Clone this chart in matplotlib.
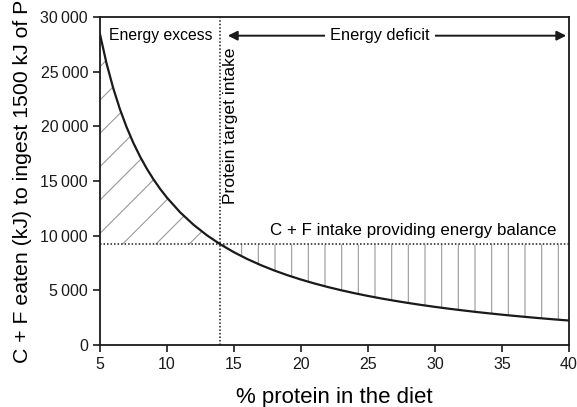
import numpy as np
import matplotlib.pyplot as plt
from matplotlib.ticker import FuncFormatter

plt.rcParams['font.family'] = ['Liberation Sans', 'DejaVu Sans']
plt.rcParams['hatch.linewidth'] = 0.8

# % protein in the diet and C + F needed to reach the 1500 kJ protein target
protein_pct = [5, 5.5, 6, 6.5, 7, 7.5, 8, 8.5, 9, 9.5, 10, 11, 12, 13, 14,
               15, 16, 17, 18, 19, 20, 21, 22, 23, 24, 25, 26, 27, 28, 29,
               30, 31, 32, 33, 34, 35, 36, 37, 38, 39, 40]
cf_eaten = [28500, 25773, 23500, 21577, 19929, 18500, 17250, 16147, 15167,
            14289, 13500, 12136, 11000, 10038, 9214, 8500, 7875, 7324, 6833,
            6395, 6000, 5643, 5318, 5022, 4750, 4500, 4269, 4056, 3857, 3672,
            3500, 3339, 3188, 3045, 2912, 2786, 2667, 2554, 2447, 2346, 2250]
target_pct = 14
balance_cf = 9214

x = np.array(protein_pct)
y = np.array(cf_eaten)

fig = plt.figure(figsize=(5.77, 4.07), dpi=100)
ax = fig.add_axes([0.173, 0.152, 0.813, 0.806])

ax.fill_between(x, y, balance_cf, where=x <= target_pct, facecolor='none',
                edgecolor='#9a9a9a', hatch='/', linewidth=0)
ax.fill_between(x, y, balance_cf, where=x >= target_pct, facecolor='none',
                edgecolor='#9a9a9a', hatch='|', linewidth=0)

ax.plot(x, y, color='#1a1a1a', lw=1.6, zorder=3)
ax.axhline(balance_cf, color='#1a1a1a', lw=1.1, ls=(0, (1, 1.3)), zorder=3)
ax.axvline(target_pct, color='#1a1a1a', lw=1.1, ls=(0, (1, 1.3)), zorder=3)

ax.text(5.7, 28300, 'Energy excess', fontsize=11.3, va='center', ha='left')
ax.annotate('', xy=(14.55, 28300), xytext=(39.8, 28300),
            arrowprops=dict(arrowstyle='<|-|>', color='#1a1a1a', lw=1.4,
                            mutation_scale=14, shrinkA=0, shrinkB=0))
ax.text(25.9, 28300, 'Energy deficit', fontsize=11.8, va='center',
        ha='center', bbox=dict(facecolor='white', edgecolor='none', pad=4))
ax.text(14.2, 27200, 'Protein target intake', fontsize=12.6, rotation=90,
        va='top', ha='left')
ax.text(39.1, 10450, 'C + F intake providing energy balance', fontsize=12.2,
        va='center', ha='right')

ax.set_xlim(5, 40)
ax.set_ylim(0, 30000)
ax.set_xticks(range(5, 41, 5))
ax.set_yticks(range(0, 30001, 5000))
ax.yaxis.set_major_formatter(FuncFormatter(
    lambda v, p: f'{int(v):,}'.replace(',', '\u2009')))
ax.tick_params(direction='out', length=5, width=1.2, labelsize=11.5,
               colors='#1a1a1a')
for s in ax.spines.values():
    s.set_linewidth(1.3)
    s.set_color('#1a1a1a')

ax.set_xlabel('% protein in the diet', fontsize=16, labelpad=11)
ax.set_ylabel('C + F eaten (kJ) to ingest 1500 kJ of P', fontsize=15.3,
              labelpad=6)

fig.savefig('out.png', dpi=100)
